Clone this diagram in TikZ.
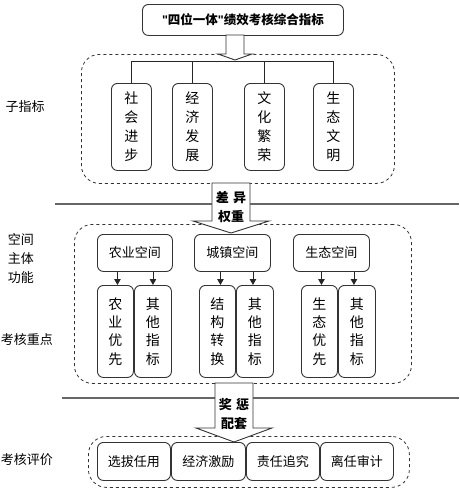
\documentclass[tikz,border=0pt]{standalone}
\usepackage{fontspec}
\setmainfont{Noto Sans CJK SC}
\newfontfamily\latinq{Liberation Sans}
\usetikzlibrary{arrows.meta}
\begin{document}
\begin{tikzpicture}[x=1pt,y=-1pt,
  box/.style={draw=black!80, line width=0.9pt, rounded corners=6pt, inner sep=0pt, align=center, anchor=north west},
  group/.style={draw=black!80, dashed, line width=0.8pt, rounded corners=18pt, inner sep=0pt, anchor=north west},
  sep/.style={draw=black!60, line width=1.3pt},
  hollow/.style={draw=black!80, fill=white, line width=0.9pt},
  lbl/.style={font=\fontsize{13}{19}\selectfont, align=center, inner sep=0pt},
  vtext/.style={font=\fontsize{14}{19}\selectfont},
  vtextb/.style={font=\fontsize{14}{18.4}\selectfont},
  htext/.style={font=\fontsize{13}{16}\selectfont},
  arrt/.style={font=\bfseries\fontsize{13}{19}\selectfont, align=center, inner sep=0pt},
  conn/.style={draw=black!85, line width=0.9pt},
  arr/.style={conn, -{Triangle[length=6pt,width=6.5pt]}}
]
\useasboundingbox (0,0) rectangle (459,493);

% title
\node[box, minimum width=201pt, minimum height=31pt, font=\bfseries\fontsize{12.5}{15}\selectfont] (title) at (142,4) {{\latinq\bfseries "}四位一体{\latinq\bfseries "}绩效考核综合指标};

% group 1
\node[group, minimum width=313pt, minimum height=129pt] (g1) at (81,54) {};
\node[box, vtext, minimum width=40pt, minimum height=87pt] (b1) at (111,83) {社\\会\\进\\步};
\node[box, vtext, minimum width=40pt, minimum height=87pt] (b2) at (172,83) {经\\济\\发\\展};
\node[box, vtext, minimum width=40pt, minimum height=87pt] (b3) at (244,83) {文\\化\\繁\\荣};
\node[box, vtext, minimum width=40pt, minimum height=87pt] (b4) at (313,83) {生\\态\\文\\明};
\coordinate (bus) at (0,61);
\draw[conn] (b1.north) -- (b1.north |- bus) -- (b4.north |- bus) -- (b4.north);
\draw[conn] (b2.north |- bus) -- (b2.north);
\draw[conn] (b3.north |- bus) -- (b3.north);

% small hollow arrow
\draw[hollow] (226,35) -- (244,35) -- (244,54) -- (252,54) -- (235,60) -- (218,54) -- (226,54) -- cycle;

% separators
\draw[sep] (55,204) -- (459,204);
\draw[sep] (62,398) -- (459,398);

% group 2
\node[group, minimum width=337pt, minimum height=159pt] (g2) at (74,224) {};
\draw[hollow] (212,183) -- (250,183) -- (250,221) -- (269,221) -- (231,233) -- (193,221) -- (212,221) -- cycle;
\node[arrt] (w1) at (231,207.5) {差\,\,异\\权重};

\node[box, htext, minimum width=75pt, minimum height=37pt] (s1) at (97,234) {农业空间};
\node[box, htext, minimum width=76pt, minimum height=37pt] (s2) at (194,234) {城镇空间};
\node[box, htext, minimum width=76pt, minimum height=37pt] (s3) at (293,234) {生态空间};

\node[box, vtextb, minimum width=36pt, minimum height=92pt] (k1) at (97,285) {农\\业\\优\\先};
\node[box, vtextb, minimum width=37pt, minimum height=92pt] (k2) at (134,285) {其\\他\\指\\标};
\node[box, vtextb, minimum width=36pt, minimum height=92pt] (k3) at (199,285) {结\\构\\转\\换};
\node[box, vtextb, minimum width=37pt, minimum height=92pt] (k4) at (236,285) {其\\他\\指\\标};
\node[box, vtextb, minimum width=36pt, minimum height=92pt] (k5) at (301,285) {生\\态\\优\\先};
\node[box, vtextb, minimum width=37pt, minimum height=92pt] (k6) at (338,285) {其\\他\\指\\标};

\draw[arr] ([xshift=2pt]k1.north |- s1.south) -- ([xshift=2pt]k1.north);
\draw[arr] (k2.north |- s1.south) -- (k2.north);
\draw[arr] ([xshift=3pt]k3.north |- s2.south) -- ([xshift=3pt]k3.north);
\draw[arr] ([xshift=-2pt]k4.north |- s2.south) -- ([xshift=-2pt]k4.north);
\draw[arr] ([xshift=2pt]k5.north |- s3.south) -- ([xshift=2pt]k5.north);
\draw[arr] ([xshift=-3pt]k6.north |- s3.south) -- ([xshift=-3pt]k6.north);

% group 3
\node[group, minimum width=321pt, minimum height=51pt] (g3) at (88,436) {};
\draw[hollow] (215,383) -- (253,383) -- (253,428) -- (272,428) -- (234,442) -- (196,428) -- (215,428) -- cycle;
\node[arrt] (w2) at (234,414) {奖\,\,惩\\配套};

\node[box, htext, minimum width=73pt, minimum height=38pt] (e1) at (97,442) {选拔任用};
\node[box, htext, minimum width=74pt, minimum height=38pt] (e2) at (171,442) {经济激励};
\node[box, htext, minimum width=73pt, minimum height=38pt] (e3) at (246,442) {责任追究};
\node[box, htext, minimum width=73pt, minimum height=38pt] (e4) at (320,442) {离任审计};

% left labels
\node[lbl] (l1) at (25,107) {子指标};
\node[lbl] (l2) at (21,259) {空间\\主体\\功能};
\node[lbl] (l3) at (27,340) {考核重点};
\node[lbl] (l4) at (27,460) {考核评价};
\end{tikzpicture}
\end{document}
